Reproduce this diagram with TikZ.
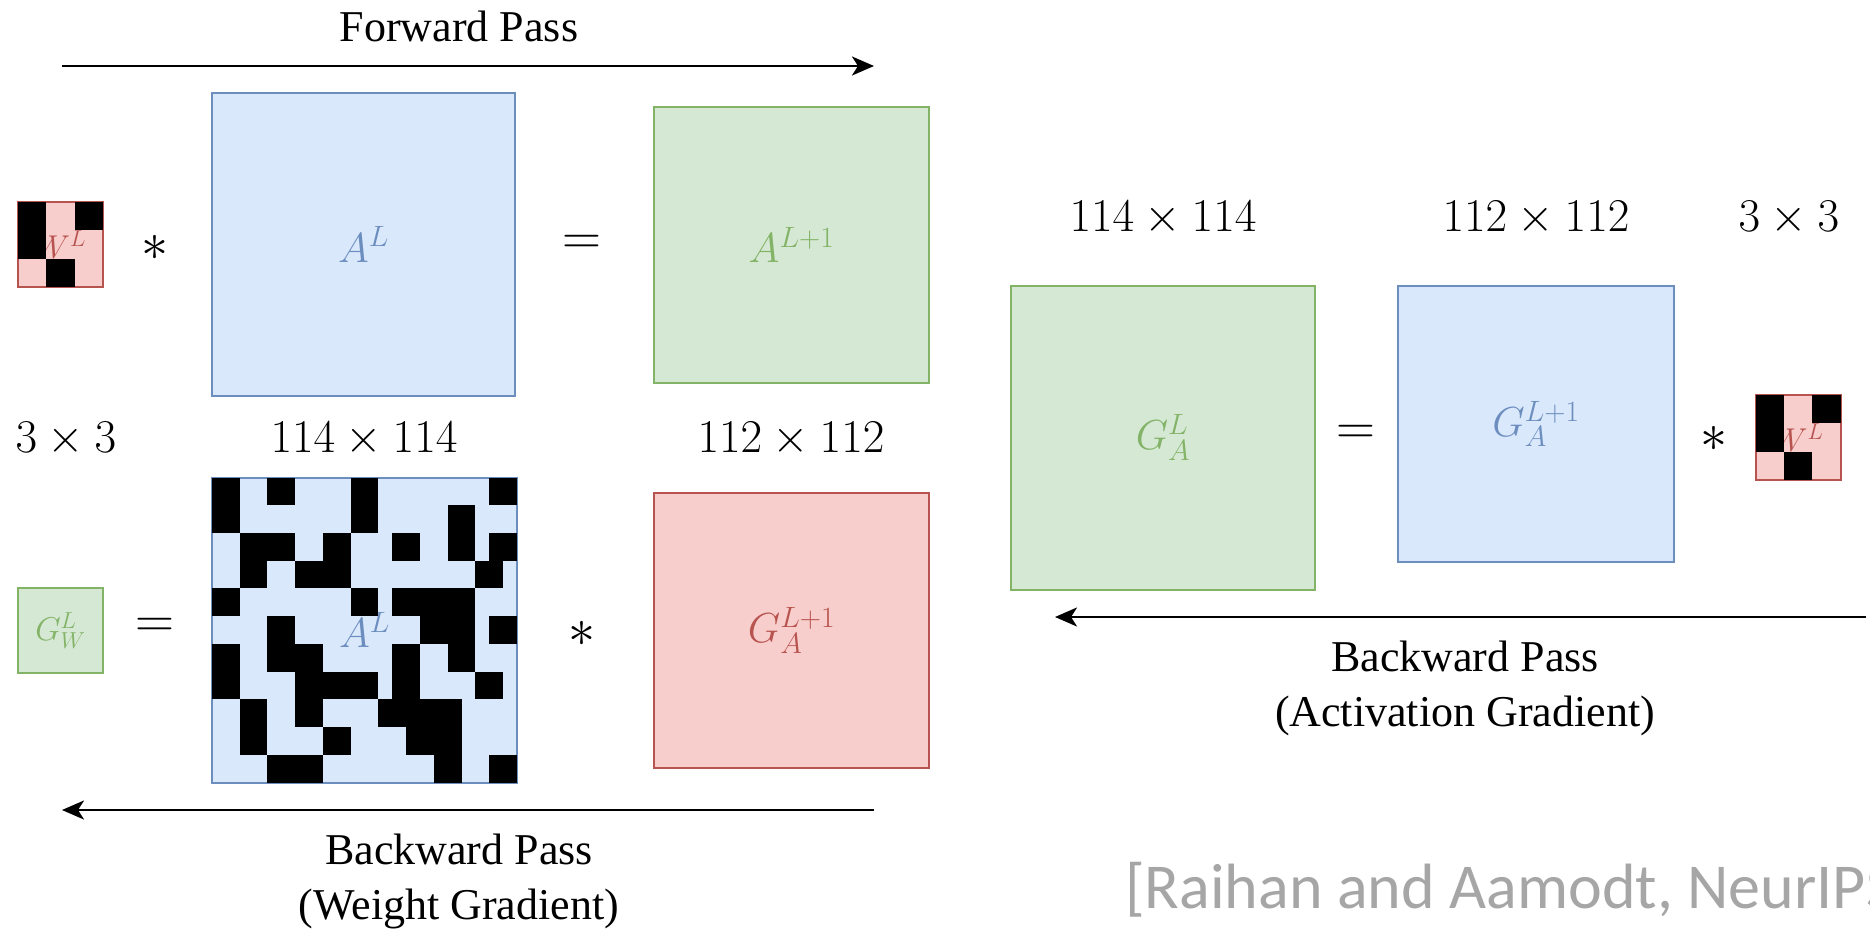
\RequirePackage{fix-cm}
\documentclass[tikz,border=0pt]{standalone}
\usepackage{fontspec}
\setmainfont{Liberation Serif}
\newfontfamily\citefont{Carlito}
\usetikzlibrary{arrows.meta,calc}

\definecolor{bluefill}{HTML}{DAE8FC}
\definecolor{bluedraw}{HTML}{6C8EBF}
\definecolor{greenfill}{HTML}{D5E8D4}
\definecolor{greendraw}{HTML}{82B366}
\definecolor{redfill}{HTML}{F8CECC}
\definecolor{reddraw}{HTML}{B85450}
\definecolor{citegray}{HTML}{A6A6A6}

\tikzset{
	mat/.style={draw, line width=2pt, inner sep=0pt, outer sep=0pt, minimum size=#1},
	bluemat/.style={mat={#1}, fill=bluefill, draw=bluedraw, text=bluedraw, font=\fontsize{42}{50}\selectfont},
	greenmat/.style={mat={#1}, fill=greenfill, draw=greendraw, text=greendraw, font=\fontsize{42}{50}\selectfont},
	redmat/.style={mat={#1}, fill=redfill, draw=reddraw, text=reddraw, font=\fontsize{42}{50}\selectfont},
	smallmat/.style={font=\fontsize{33}{40}\selectfont},
	dimlabel/.style={inner sep=0pt, font=\fontsize{47}{56}\selectfont},
	oplabel/.style={inner sep=0pt, font=\fontsize{54}{64}\selectfont},
	passlabel/.style={inner sep=0pt, align=center, font=\fontsize{44}{55}\selectfont},
	passarrow/.style={line width=2.5pt, -{Stealth[length=22pt, width=19pt, inset=6pt]}},
	citetext/.style={inner sep=0pt, anchor=west, text=citegray, font=\citefont\fontsize{64}{76}\selectfont}
}

\begin{document}
\begin{tikzpicture}[x=1pt, y=-1pt]
	\clip (0,0) rectangle (1870,931);
	\fill[white] (0,0) rectangle (1870,931);

	% forward pass
	\node[passlabel] (fwdtext) at (459,26) {Forward Pass};
	\coordinate (fwdL) at (62,66);
	\coordinate (fwdR) at (874,66);
	\draw[passarrow] (fwdL) -- (fwdR);

	\node[redmat=85pt, smallmat] (kerTop) at (60.5,244.5) {$W^{L}$};
	\foreach \a/\b/\c/\d in {0/0/1/2, 2/0/3/1, 1/2/2/3}
		\fill ($(kerTop.north west)+(\a*28.33,\b*28.33)$) rectangle ($(kerTop.north west)+(\c*28.33,\d*28.33)$);
	\node[oplabel] (opConv1) at (155,248) {$*$};
	\node[bluemat=303pt] (aLtop) at (363.5,244.5) {$A^{L}$};
	\node[oplabel] (opEq1) at (582,245) {$=$};
	\node[greenmat=275pt] (aLnext) at (791.5,245) {$A^{L+1}$};

	% weight gradient
	\node[dimlabel] (dimKer) at (66,439) {$3\times3$};
	\node[dimlabel] (dimIn) at (364,439) {$114\times114$};
	\node[dimlabel] (dimOut) at (791,439) {$112\times112$};

	\node[greenmat=85pt, smallmat] (gW) at (60.5,630.5) {$G_{W}^{L}$};
	\node[oplabel] (opEq2) at (155,628) {$=$};
	\node[bluemat=305pt] (aLpat) at (364.5,630) {$A^{L}$};
	\foreach \a/\b/\c/\d in {0/0/2/4, 4/0/6/2, 10/0/12/4, 2/4/6/6, 2/4/4/8, 8/4/10/8, 6/6/10/8,
		0/8/2/10, 10/8/12/10, 4/10/6/14, 0/12/2/16, 4/12/8/14, 6/12/8/18, 8/14/12/16,
		2/16/4/20, 8/18/10/20, 4/20/8/22,
		20/0/22/2, 17/2/19/6, 13/4/15/6, 20/4/22/6, 19/6/21/8, 13/8/19/10, 15/10/19/12,
		20/10/22/12, 13/12/15/16, 17/12/19/14, 19/14/21/16, 12/16/18/18, 14/18/18/20,
		16/20/18/22, 20/20/22/22}
		\fill ($(aLpat.north west)+(\a*13.864,\b*13.864)$) rectangle ($(aLpat.north west)+(\c*13.864,\d*13.864)$);
	\node[oplabel] (opConv2) at (582,634) {$*$};
	\node[redmat=275pt] (gAnext) at (791.5,630.5) {$G_{A}^{L+1}$};

	\node[passlabel] (bwdWtext) at (459,881) {Backward Pass\\(Weight Gradient)};
	\coordinate (bwdWR) at (874,810);
	\coordinate (bwdWL) at (62,810);
	\draw[passarrow] (bwdWR) -- (bwdWL);

	% activation gradient
	\node[dimlabel] (dimGin) at (1163,218) {$114\times114$};
	\node[dimlabel] (dimGout) at (1536,218) {$112\times112$};
	\node[dimlabel] (dimKerR) at (1789,218) {$3\times3$};

	\node[greenmat=304pt] (gAL) at (1163,437.5) {$G_{A}^{L}$};
	\node[oplabel] (opEq3) at (1356,435) {$=$};
	\node[bluemat=276pt] (gAnextR) at (1536,424) {$G_{A}^{L+1}$};
	\node[oplabel] (opConv3) at (1714,439) {$*$};
	\node[redmat=85pt, smallmat] (kerRight) at (1798,437.5) {$W^{L}$};
	\foreach \a/\b/\c/\d in {0/0/1/2, 2/0/3/1, 1/2/2/3}
		\fill ($(kerRight.north west)+(\a*28.33,\b*28.33)$) rectangle ($(kerRight.north west)+(\c*28.33,\d*28.33)$);

	\coordinate (bwdAR) at (1866,617);
	\coordinate (bwdAL) at (1055,617);
	\draw[passarrow] (bwdAR) -- (bwdAL);
	\node[passlabel] (bwdAtext) at (1465,688) {Backward Pass\\(Activation Gradient)};

	\node[citetext] (cite) at (1125,890) {[Raihan and Aamodt, NeurIPS};
\end{tikzpicture}
\end{document}
